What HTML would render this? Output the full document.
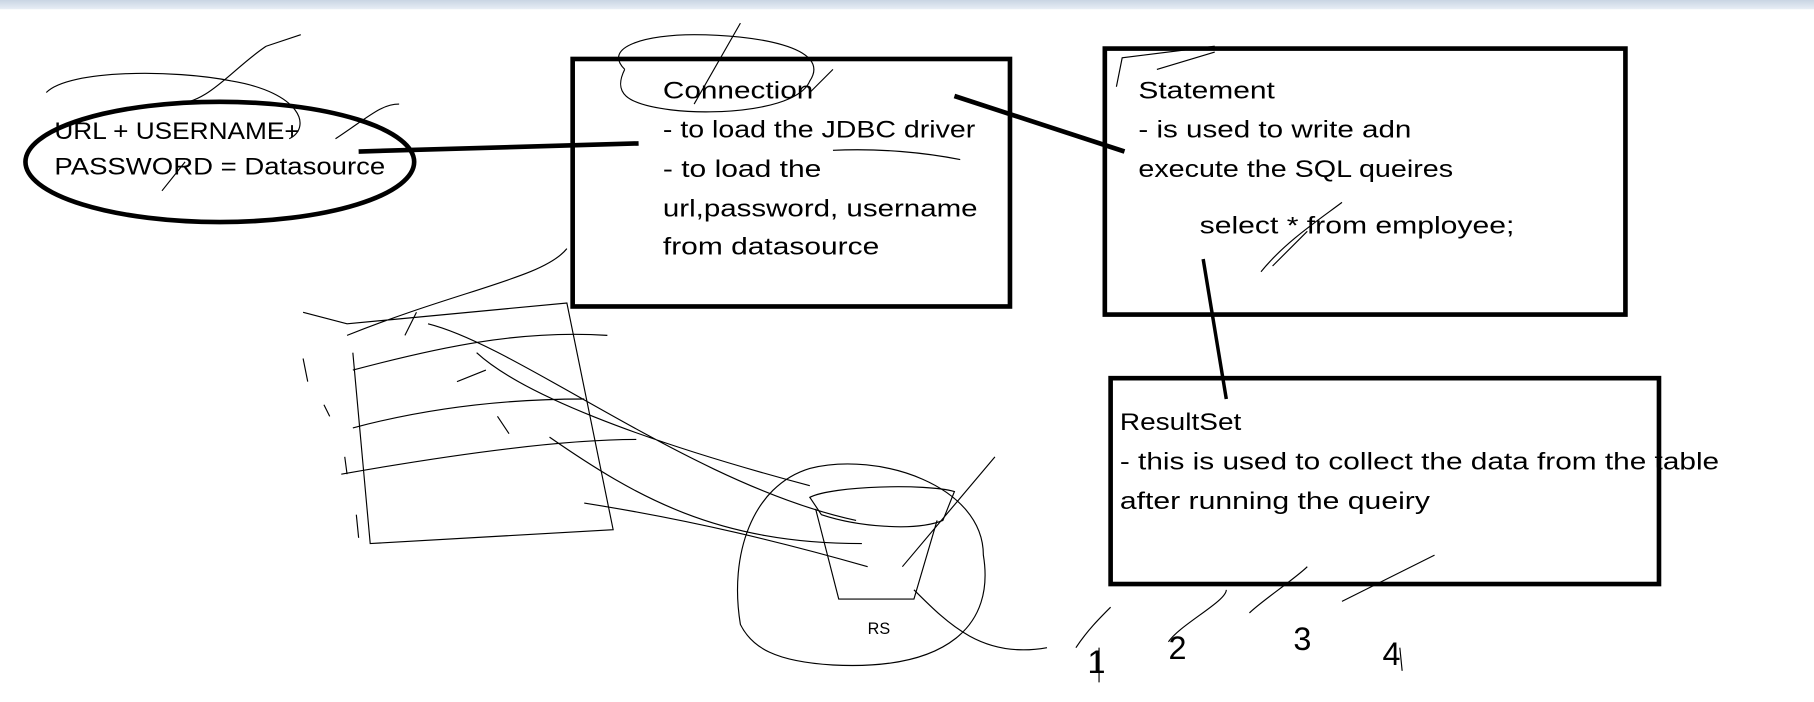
<!DOCTYPE html>
<html><head><style>html,body{margin:0;padding:0;background:#fff;}svg{display:block}</style></head>
<body>
<svg width="1814" height="702" viewBox="0 0 1568 607" preserveAspectRatio="none" xmlns="http://www.w3.org/2000/svg">
<defs><linearGradient id="g" x1="0" y1="0" x2="0" y2="1"><stop offset="0" stop-color="#c9d5e3"/><stop offset="1" stop-color="#e8eef5"/></linearGradient></defs>
<rect x="0" y="0" width="1568" height="8" fill="url(#g)"/>
<g fill="none" stroke="#000">
<ellipse cx="190" cy="140" rx="168" ry="52" stroke-width="4"/>
<rect x="495" y="51" width="378" height="214" stroke-width="4"/>
<rect x="955" y="42" width="450" height="230" stroke-width="4"/>
<rect x="960" y="327" width="474" height="178" stroke-width="4"/>
<line x1="310" y1="131" x2="552" y2="124" stroke-width="4"/>
<line x1="825" y1="83" x2="972" y2="131" stroke-width="4"/>
<line x1="1040" y1="224" x2="1060" y2="345" stroke-width="3"/>
<g stroke-width="1">
<path d="M540 60 C520 40 560 30 600 30 C650 30 720 40 700 70 C690 95 620 100 580 95 C540 90 530 80 540 60"/>
<path d="M600 90 L640 20 M700 80 L720 60"/>
<path d="M720 130 C760 128 800 132 830 138"/>
<path d="M40 80 C60 60 150 60 200 70 C260 80 270 110 250 120"/>
<path d="M230 40 C200 60 180 90 150 90 M260 30 L230 40"/>
<path d="M290 120 C320 100 330 90 345 90 M160 140 L140 165"/>
<path d="M965 75 L970 50 L1050 40 M1000 60 L1050 45"/>
<path d="M1090 235 C1110 210 1140 190 1160 175 M1100 230 L1130 200"/>
<path d="M490 215 C470 240 400 250 300 290 M262 270 L300 280 L490 262 L530 458 L320 470 L305 305"/>
<path d="M305 320 C380 300 450 285 525 290 M305 370 C380 350 450 345 505 345 M295 410 C380 395 480 380 550 380 M505 435 C600 450 680 470 750 490"/>
<path d="M360 270 L350 290 M370 280 C450 300 600 420 740 450 M420 320 L395 330 M412 305 C450 340 550 380 700 420 M430 360 L440 375 M475 378 C550 430 620 470 745 470"/>
<path d="M262 310 L266 330 M280 350 L285 360 M298 395 L300 410 M308 445 L310 465"/>
<path d="M640 540 C630 480 650 420 700 405 C760 390 850 420 850 480 C860 540 820 580 720 575 C670 572 650 560 640 540"/>
<path d="M700 430 C720 420 800 418 825 425 L815 450 C790 460 740 455 710 445 Z"/>
<path d="M705 440 L725 518 L790 518 L810 450"/>
<path d="M790 510 C820 540 850 570 905 560 M860 395 L780 490"/>
<path d="M930 560 C940 545 950 535 960 525 M950 560 L950 590 M1010 555 C1020 540 1060 520 1060 510 M1080 530 C1090 520 1120 500 1130 490 M1160 520 L1240 480 M1210 560 L1212 580"/>
<text x="750" y="548" font-size="14" stroke="none" fill="#000" font-family="Liberation Sans">RS</text>
<text x="940" y="582" font-size="28" stroke="none" fill="#000" font-family="Liberation Sans" font-weight="100">1</text>
<text x="1010" y="570" font-size="28" stroke="none" fill="#000" font-family="Liberation Sans">2</text>
<text x="1118" y="562" font-size="28" stroke="none" fill="#000" font-family="Liberation Sans">3</text>
<text x="1195" y="575" font-size="28" stroke="none" fill="#000" font-family="Liberation Sans">4</text>
</g>
</g>
<g font-family="Liberation Sans, sans-serif" font-size="21" fill="#000">
<text x="47" y="120" textLength="212" lengthAdjust="spacingAndGlyphs">URL + USERNAME+</text>
<text x="47" y="151" textLength="286" lengthAdjust="spacingAndGlyphs">PASSWORD = Datasource</text>
<text x="573" y="85" textLength="130" lengthAdjust="spacingAndGlyphs">Connection</text>
<text x="573" y="119" textLength="270" lengthAdjust="spacingAndGlyphs">- to load the JDBC driver</text>
<text x="573" y="153" textLength="137" lengthAdjust="spacingAndGlyphs">- to load the</text>
<text x="573" y="187" textLength="272" lengthAdjust="spacingAndGlyphs">url,password, username</text>
<text x="573" y="220" textLength="187" lengthAdjust="spacingAndGlyphs">from datasource</text>
<text x="984" y="85" textLength="118" lengthAdjust="spacingAndGlyphs">Statement</text>
<text x="984" y="119" textLength="236" lengthAdjust="spacingAndGlyphs">- is used to write adn</text>
<text x="984" y="153" textLength="272" lengthAdjust="spacingAndGlyphs">execute the SQL queires</text>
<text x="1037" y="202" textLength="272" lengthAdjust="spacingAndGlyphs">select * from employee;</text>
<text x="968" y="372" textLength="105" lengthAdjust="spacingAndGlyphs">ResultSet</text>
<text x="968" y="406" textLength="518" lengthAdjust="spacingAndGlyphs">- this is used to collect the data from the table</text>
<text x="968" y="440" textLength="268" lengthAdjust="spacingAndGlyphs">after running the queiry</text>
</g>
</svg>
</body></html>
